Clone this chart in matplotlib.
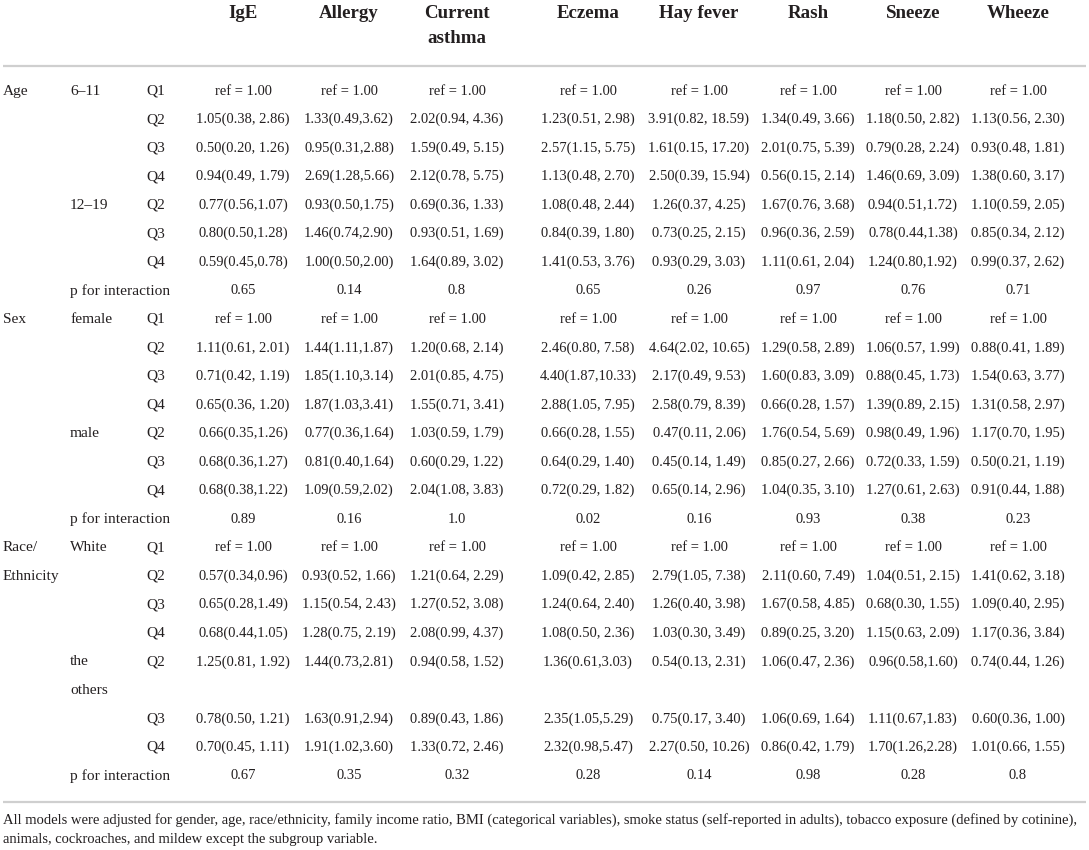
import matplotlib
matplotlib.use("Agg")
import matplotlib.pyplot as plt

# ---------------- data ----------------
outcomes = ["IgE", "Allergy", "Current\nasthma", "Eczema", "Hay fever", "Rash", "Sneeze", "Wheeze"]

groups = ["Age", "Sex", "Race/\nEthnicity"]
subgroups = [["6–11", "12–19"], ["female", "male"], ["White", "the\nothers"]]
quartiles_first = ["Q1", "Q2", "Q3", "Q4"]
quartiles_second = ["Q2", "Q3", "Q4"]
p_label = "p for interaction"

IgE = ["ref = 1.00", "1.05(0.38, 2.86)", "0.50(0.20, 1.26)", "0.94(0.49, 1.79)", "0.77(0.56,1.07)", "0.80(0.50,1.28)", "0.59(0.45,0.78)", "0.65",
       "ref = 1.00", "1.11(0.61, 2.01)", "0.71(0.42, 1.19)", "0.65(0.36, 1.20)", "0.66(0.35,1.26)", "0.68(0.36,1.27)", "0.68(0.38,1.22)", "0.89",
       "ref = 1.00", "0.57(0.34,0.96)", "0.65(0.28,1.49)", "0.68(0.44,1.05)", "1.25(0.81, 1.92)", "0.78(0.50, 1.21)", "0.70(0.45, 1.11)", "0.67"]
Allergy = ["ref = 1.00", "1.33(0.49,3.62)", "0.95(0.31,2.88)", "2.69(1.28,5.66)", "0.93(0.50,1.75)", "1.46(0.74,2.90)", "1.00(0.50,2.00)", "0.14",
           "ref = 1.00", "1.44(1.11,1.87)", "1.85(1.10,3.14)", "1.87(1.03,3.41)", "0.77(0.36,1.64)", "0.81(0.40,1.64)", "1.09(0.59,2.02)", "0.16",
           "ref = 1.00", "0.93(0.52, 1.66)", "1.15(0.54, 2.43)", "1.28(0.75, 2.19)", "1.44(0.73,2.81)", "1.63(0.91,2.94)", "1.91(1.02,3.60)", "0.35"]
Current_asthma = ["ref = 1.00", "2.02(0.94, 4.36)", "1.59(0.49, 5.15)", "2.12(0.78, 5.75)", "0.69(0.36, 1.33)", "0.93(0.51, 1.69)", "1.64(0.89, 3.02)", "0.8",
                  "ref = 1.00", "1.20(0.68, 2.14)", "2.01(0.85, 4.75)", "1.55(0.71, 3.41)", "1.03(0.59, 1.79)", "0.60(0.29, 1.22)", "2.04(1.08, 3.83)", "1.0",
                  "ref = 1.00", "1.21(0.64, 2.29)", "1.27(0.52, 3.08)", "2.08(0.99, 4.37)", "0.94(0.58, 1.52)", "0.89(0.43, 1.86)", "1.33(0.72, 2.46)", "0.32"]
Eczema = ["ref = 1.00", "1.23(0.51, 2.98)", "2.57(1.15, 5.75)", "1.13(0.48, 2.70)", "1.08(0.48, 2.44)", "0.84(0.39, 1.80)", "1.41(0.53, 3.76)", "0.65",
          "ref = 1.00", "2.46(0.80, 7.58)", "4.40(1.87,10.33)", "2.88(1.05, 7.95)", "0.66(0.28, 1.55)", "0.64(0.29, 1.40)", "0.72(0.29, 1.82)", "0.02",
          "ref = 1.00", "1.09(0.42, 2.85)", "1.24(0.64, 2.40)", "1.08(0.50, 2.36)", "1.36(0.61,3.03)", "2.35(1.05,5.29)", "2.32(0.98,5.47)", "0.28"]
Hay_fever = ["ref = 1.00", "3.91(0.82, 18.59)", "1.61(0.15, 17.20)", "2.50(0.39, 15.94)", "1.26(0.37, 4.25)", "0.73(0.25, 2.15)", "0.93(0.29, 3.03)", "0.26",
             "ref = 1.00", "4.64(2.02, 10.65)", "2.17(0.49, 9.53)", "2.58(0.79, 8.39)", "0.47(0.11, 2.06)", "0.45(0.14, 1.49)", "0.65(0.14, 2.96)", "0.16",
             "ref = 1.00", "2.79(1.05, 7.38)", "1.26(0.40, 3.98)", "1.03(0.30, 3.49)", "0.54(0.13, 2.31)", "0.75(0.17, 3.40)", "2.27(0.50, 10.26)", "0.14"]
Rash = ["ref = 1.00", "1.34(0.49, 3.66)", "2.01(0.75, 5.39)", "0.56(0.15, 2.14)", "1.67(0.76, 3.68)", "0.96(0.36, 2.59)", "1.11(0.61, 2.04)", "0.97",
        "ref = 1.00", "1.29(0.58, 2.89)", "1.60(0.83, 3.09)", "0.66(0.28, 1.57)", "1.76(0.54, 5.69)", "0.85(0.27, 2.66)", "1.04(0.35, 3.10)", "0.93",
        "ref = 1.00", "2.11(0.60, 7.49)", "1.67(0.58, 4.85)", "0.89(0.25, 3.20)", "1.06(0.47, 2.36)", "1.06(0.69, 1.64)", "0.86(0.42, 1.79)", "0.98"]
Sneeze = ["ref = 1.00", "1.18(0.50, 2.82)", "0.79(0.28, 2.24)", "1.46(0.69, 3.09)", "0.94(0.51,1.72)", "0.78(0.44,1.38)", "1.24(0.80,1.92)", "0.76",
          "ref = 1.00", "1.06(0.57, 1.99)", "0.88(0.45, 1.73)", "1.39(0.89, 2.15)", "0.98(0.49, 1.96)", "0.72(0.33, 1.59)", "1.27(0.61, 2.63)", "0.38",
          "ref = 1.00", "1.04(0.51, 2.15)", "0.68(0.30, 1.55)", "1.15(0.63, 2.09)", "0.96(0.58,1.60)", "1.11(0.67,1.83)", "1.70(1.26,2.28)", "0.28"]
Wheeze = ["ref = 1.00", "1.13(0.56, 2.30)", "0.93(0.48, 1.81)", "1.38(0.60, 3.17)", "1.10(0.59, 2.05)", "0.85(0.34, 2.12)", "0.99(0.37, 2.62)", "0.71",
          "ref = 1.00", "0.88(0.41, 1.89)", "1.54(0.63, 3.77)", "1.31(0.58, 2.97)", "1.17(0.70, 1.95)", "0.50(0.21, 1.19)", "0.91(0.44, 1.88)", "0.23",
          "ref = 1.00", "1.41(0.62, 3.18)", "1.09(0.40, 2.95)", "1.17(0.36, 3.84)", "0.74(0.44, 1.26)", "0.60(0.36, 1.00)", "1.01(0.66, 1.55)", "0.8"]

footnote = ("All models were adjusted for gender, age, race/ethnicity, family income ratio, BMI (categorical variables), smoke status (self-reported in adults), tobacco exposure (defined by cotinine),\n"
            "animals, cockroaches, and mildew except the subgroup variable.")

columns = [IgE, Allergy, Current_asthma, Eczema, Hay_fever, Rash, Sneeze, Wheeze]

# ---------------- layout ----------------
W, H = 1089, 850
fig = plt.figure(figsize=(W / 100, H / 100), dpi=100)
ax = fig.add_axes([0, 0, 1, 1])
ax.set_xlim(0, W)
ax.set_ylim(H, 0)
ax.axis("off")

FONT = ["Liberation Serif", "DejaVu Serif"]
TC = "#231f20"
FS = 10.45     # numbers
FSL = 11.1     # row labels
col_x = [243, 349, 457, 588, 699, 808, 913, 1018]
x_group, x_sub, x_q = 3, 70, 146
y0, dy = 91, 28.54

# header
for cx, name in zip(col_x, outcomes):
    for k, line in enumerate(name.split("\n")):
        ax.text(cx, 13 + k * 25.5, line, ha="center", va="center", fontsize=13.6,
                fontweight="bold", family=FONT, color=TC)

ax.plot([3, 1086], [66, 66], color="#cfcfcf", lw=1.6, solid_capstyle="butt")

# build display rows
display_rows = []  # (y index, group label, sub label, quartile label, data index)
r = 0
d = 0
for gi, g in enumerate(groups):
    glines = g.split("\n")
    for si, sub in enumerate(subgroups[gi]):
        qs = quartiles_first if si == 0 else quartiles_second
        slines = sub.split("\n")
        for qi, q in enumerate(qs):
            gl = ""
            if si == 0 and qi < len(glines):
                gl = glines[qi]
            sl = slines[0] if qi == 0 else ""
            display_rows.append((r, gl, sl, q, d))
            d += 1
            r += 1
            if qi == 0 and len(slines) > 1:
                for extra in slines[1:]:
                    display_rows.append((r, "", extra, "", None))
                    r += 1
    display_rows.append((r, "", p_label, "", d))
    d += 1
    r += 1

for (ri, gl, sl, q, di) in display_rows:
    y = y0 + ri * dy
    if gl:
        ax.text(x_group, y, gl, ha="left", va="center", fontsize=FSL, family=FONT, color=TC)
    if sl:
        ax.text(x_sub, y, sl, ha="left", va="center", fontsize=FSL, family=FONT, color=TC)
    if q:
        ax.text(x_q, y, q, ha="left", va="center", fontsize=FSL, family=FONT, color=TC)
    if di is not None:
        for cx, col in zip(col_x, columns):
            ax.text(cx, y, col[di], ha="center", va="center", fontsize=FS, family=FONT, color=TC)

ax.plot([3, 1086], [802, 802], color="#cfcfcf", lw=1.6, solid_capstyle="butt")

for k, line in enumerate(footnote.split("\n")):
    ax.text(3, 820 + k * 20, line, ha="left", va="center", fontsize=10.5, family=FONT, color=TC)

fig.savefig("out.png", dpi=100)
